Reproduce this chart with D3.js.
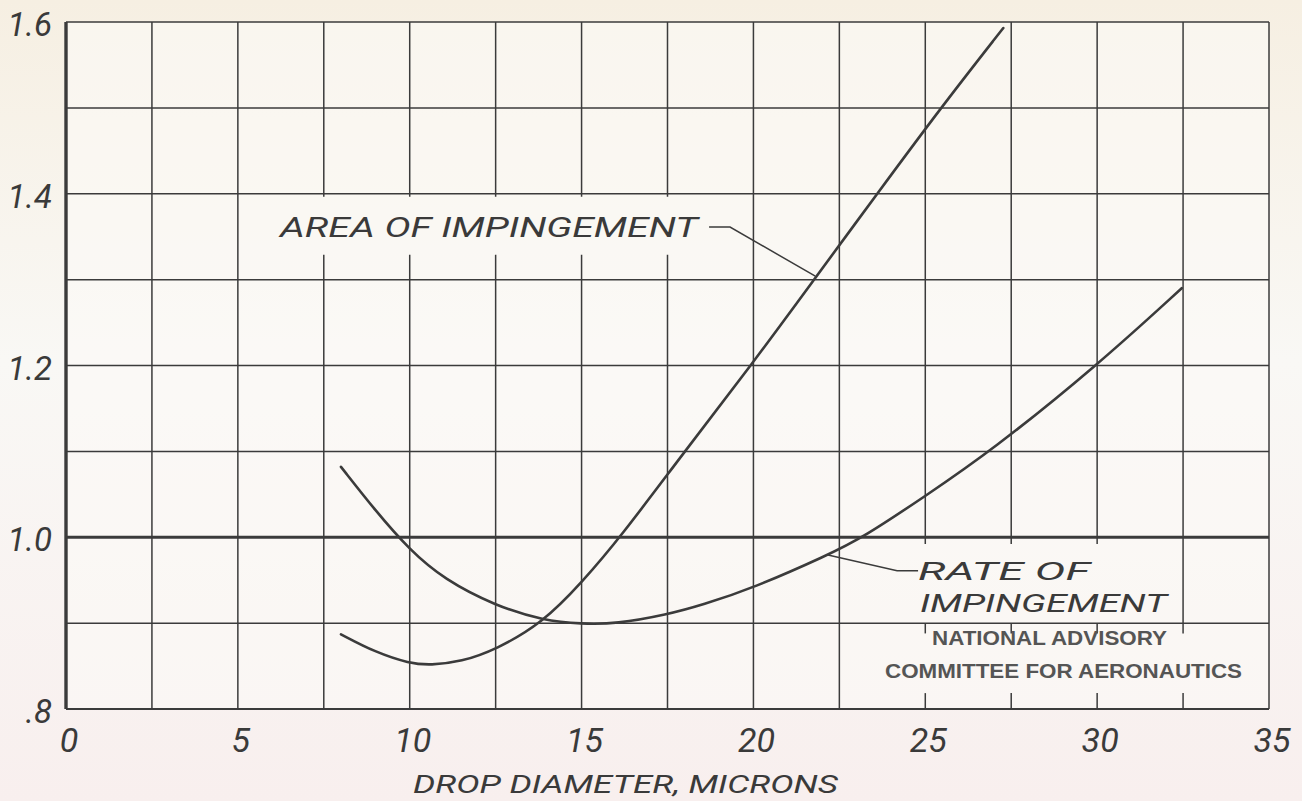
<!DOCTYPE html>
<html>
<head>
<meta charset="utf-8">
<script src="https://cdn.jsdelivr.net/npm/d3@7"></script>
<style>
  html, body { margin: 0; padding: 0; background: #f7f2ea; }
  svg { display: block; }
</style>
</head>
<body>
<svg id="chart" width="1302" height="801"></svg>
<script>
// ---- data ----
const xTickValues = [0, 5, 10, 15, 20, 25, 30, 35];
const xTickLabels = ["0", "5", "10", "15", "20", "25", "30", "35"];
const yTickValues = [1.6, 1.4, 1.2, 1.0, 0.8];
const yTickLabels = ["1.6", "1.4", "1.2", "1.0", ".8"];

// Rate of impingement curve: [drop diameter (microns), ratio]
const rateOfImpingement = [
  [8, 1.082], [9, 1.031], [10, 0.985], [11, 0.951], [12.5, 0.92],
  [13.9, 0.903], [15, 0.899], [16, 0.899], [17.5, 0.91], [18.5, 0.921],
  [20, 0.941], [22.15, 0.979], [23.2, 1.0], [25, 1.048], [26.9, 1.1],
  [30, 1.2], [32.46, 1.29]
];
// Area of impingement curve
const areaOfImpingement = [
  [8, 0.887], [9, 0.866], [10, 0.853], [10.6, 0.851], [11.5, 0.855],
  [12.5, 0.869], [13.86, 0.9], [15, 0.947], [16.13, 1.0], [18.0, 1.1],
  [19.93, 1.2], [21.8, 1.302], [23.6, 1.4], [25.45, 1.5], [27.27, 1.593]
];

const seriesLabels = ["AREA OF IMPINGEMENT", "RATE OF", "IMPINGEMENT"];
const xAxisTitle = "DROP DIAMETER, MICRONS";
const creditLines = ["NATIONAL ADVISORY", "COMMITTEE FOR AERONAUTICS"];

// ---- layout ----
const svg = d3.select("#chart");
const W = 1302, H = 801;
const x = d3.scaleLinear().domain([0, 35]).range([66, 1269]);
const y = d3.scaleLinear().domain([0.8, 1.6]).range([709, 22]);
const ink = "#3b3b3b";
const handFont = "Roboto, 'DejaVu Sans', sans-serif";

// paper background
const defs = svg.append("defs");
const grad = defs.append("linearGradient").attr("id", "paper")
  .attr("x1", 0).attr("y1", 0).attr("x2", 0).attr("y2", 1);
grad.append("stop").attr("offset", "0%").attr("stop-color", "#f6efe2");
grad.append("stop").attr("offset", "45%").attr("stop-color", "#f9f8f5");
grad.append("stop").attr("offset", "100%").attr("stop-color", "#f8efee");
svg.append("rect").attr("width", W).attr("height", H).attr("fill", "url(#paper)");
svg.append("rect").attr("x", x(0)).attr("y", y(1.6))
  .attr("width", x(35) - x(0)).attr("height", y(0.8) - y(1.6))
  .attr("fill", "#fbfaf7").attr("opacity", 0.6);

// ---- grid ----
const grid = svg.append("g").attr("stroke", ink).attr("fill", "none");
const hVals = d3.range(0.8, 1.6001, 0.1).map(v => +v.toFixed(2));
const vVals = d3.range(0, 35.001, 2.5);

hVals.forEach(v => {
  const thick = Math.abs(v - 1.0) < 1e-6;
  grid.append("line")
    .attr("x1", x(0)).attr("x2", x(35)).attr("y1", y(v)).attr("y2", y(v))
    .attr("stroke-width", thick ? 3.2 : (v === 0.8 ? 2 : 1.5));
});

// vertical lines, with breaks where the lettering sits
function gapsFor(d) {
  const g = [];
  if (d >= 7.5 && d <= 17.5) g.push([1.3965, 1.329]);           // area label
  if (d >= 25 && d <= 30) g.push([0.992, 0.9]);                  // rate label
  if (d >= 25 && d <= 32.5) g.push([0.888, 0.8185]);             // credit box
  return g;
}
vVals.forEach(d => {
  const gaps = gapsFor(d);
  let segs = [[1.6, 0.8]];
  gaps.forEach(([top, bot]) => {
    const out = [];
    segs.forEach(([a, b]) => {
      if (top <= b || bot >= a) { out.push([a, b]); return; }
      if (a > top) out.push([a, top]);
      if (bot > b) out.push([bot, b]);
    });
    segs = out;
  });
  const w = (d === 0) ? 3.4 : 1.5;
  segs.forEach(([a, b]) => {
    grid.append("line")
      .attr("x1", x(d)).attr("x2", x(d)).attr("y1", y(a)).attr("y2", y(b))
      .attr("stroke-width", w);
  });
});

// ---- curves ----
const line = d3.line().x(p => x(p[0])).y(p => y(p[1])).curve(d3.curveBasis);
svg.append("path").datum(areaOfImpingement).attr("d", line)
  .attr("fill", "none").attr("stroke", ink).attr("stroke-width", 2.6).attr("stroke-linecap", "round");
svg.append("path").datum(rateOfImpingement).attr("d", line)
  .attr("fill", "none").attr("stroke", ink).attr("stroke-width", 2.6).attr("stroke-linecap", "round");

// ---- leader lines ----
const lead = d3.line().x(p => x(p[0])).y(p => y(p[1]));
svg.append("path").datum([[18.71, 1.3613], [19.32, 1.3613], [21.8, 1.304]])
  .attr("d", lead).attr("fill", "none").attr("stroke", ink).attr("stroke-width", 1.5);
svg.append("path").datum([[22.17, 0.9793], [24.18, 0.961], [24.79, 0.961]])
  .attr("d", lead).attr("fill", "none").attr("stroke", ink).attr("stroke-width", 1.5);

// ---- hand lettered texts ----
function hand(txt, xx, yy, size, len, anchor) {
  const t = svg.append("text")
    .attr("x", xx).attr("y", yy)
    .attr("font-family", handFont).attr("font-style", "italic").attr("font-weight", 400)
    .attr("font-size", size).attr("fill", "#3a3a3a")
    .attr("text-anchor", anchor || "start")
    .text(txt);
  if (len) t.attr("textLength", len).attr("lengthAdjust", "spacingAndGlyphs");
  return t;
}

// axis tick labels
yTickValues.forEach((v, i) => {
  hand(yTickLabels[i], 52, y(v) + 14, 33, null, "end");
});
xTickValues.forEach((d, i) => {
  hand(xTickLabels[i], x(d) + 3, 752, 34, null, "middle");
});

// axis title
hand(xAxisTitle, 413, 793, 26, 425);

// series labels
hand(seriesLabels[0], 280, 237, 27, 418);
hand(seriesLabels[1], 918, 580, 25, 172);
hand(seriesLabels[2], 920, 612, 25, 247);

// credit box text
svg.append("text").attr("x", 932).attr("y", 645)
  .attr("font-family", "'Liberation Sans', Arial, sans-serif").attr("font-weight", "bold")
  .attr("font-size", 21).attr("fill", "#555")
  .attr("textLength", 235).attr("lengthAdjust", "spacingAndGlyphs")
  .text(creditLines[0]);
svg.append("text").attr("x", 885).attr("y", 678)
  .attr("font-family", "'Liberation Sans', Arial, sans-serif").attr("font-weight", "bold")
  .attr("font-size", 21).attr("fill", "#555")
  .attr("textLength", 357).attr("lengthAdjust", "spacingAndGlyphs")
  .text(creditLines[1]);
</script>
</body>
</html>
